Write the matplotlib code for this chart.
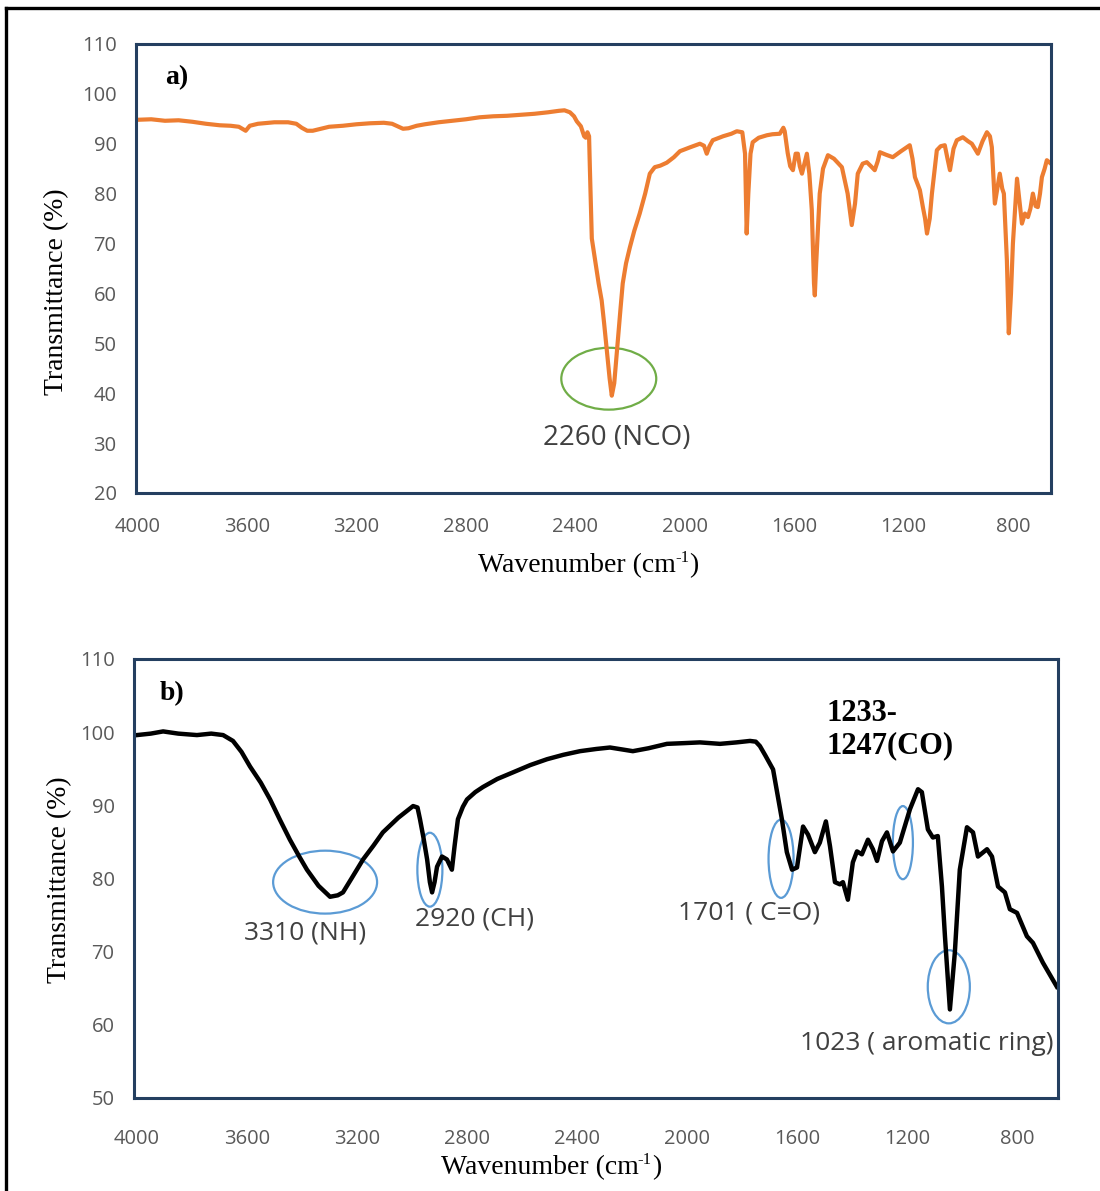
import matplotlib
matplotlib.use("Agg")
import matplotlib.pyplot as plt
from matplotlib.patches import Ellipse
from matplotlib.lines import Line2D

# (a) спектр, оранжевая кривая
wn_a = [4000, 3950, 3900, 3850, 3800, 3750, 3700, 3660, 3630, 3605, 3590, 3560, 3500, 3450,
        3420, 3400, 3380, 3360, 3330, 3300, 3250, 3200, 3150, 3100, 3070, 3050, 3030, 3010,
        2980, 2950, 2900, 2850, 2800, 2750, 2700, 2650, 2600, 2550, 2500, 2460, 2440, 2420,
        2405, 2395, 2380, 2368, 2362, 2356, 2350, 2347, 2340, 2329, 2315, 2304, 2295, 2285,
        2275, 2267, 2258, 2245, 2235, 2227, 2215, 2201, 2185, 2165, 2145, 2128, 2110, 2090,
        2066, 2040, 2018, 1980, 1945, 1930, 1920, 1910, 1898, 1860, 1830, 1810, 1790, 1780,
        1774, 1768, 1760, 1752, 1730, 1700, 1680, 1653, 1640, 1635, 1624, 1615, 1605, 1595,
        1587, 1580, 1572, 1563, 1554, 1545, 1536, 1528, 1525, 1520, 1507, 1495, 1477, 1455,
        1426, 1405, 1390, 1378, 1368, 1350, 1335, 1320, 1306, 1295, 1287, 1265, 1240, 1210,
        1178, 1168, 1159, 1150, 1141, 1130, 1122, 1115, 1105, 1097, 1079, 1065, 1050, 1040,
        1031, 1018, 1006, 984, 965, 951, 940, 929, 912, 896, 885, 878, 867, 858, 849, 840,
        834, 823, 816, 808, 801, 786, 776, 768, 757, 746, 737, 728, 718, 710, 702, 695, 685,
        677, 662]
t_a = [94.8, 94.9, 94.6, 94.7, 94.4, 94.0, 93.7, 93.6, 93.4, 92.6, 93.6, 94.0, 94.3, 94.3,
       94.0, 93.2, 92.6, 92.6, 93.0, 93.4, 93.6, 93.9, 94.1, 94.2, 94.0, 93.5, 93.0, 93.1,
       93.6, 93.9, 94.3, 94.6, 94.9, 95.3, 95.5, 95.6, 95.8, 96.0, 96.3, 96.6, 96.7, 96.3,
       95.5, 94.5, 93.5, 91.5, 91.2, 92.3, 91.5, 85.0, 71.0, 67.0, 62.0, 58.6, 54.0, 48.6,
       43.0, 39.5, 42.0, 50.6, 57.0, 62.0, 66.0, 69.2, 72.5, 76.0, 80.0, 84.0, 85.3, 85.6,
       86.2, 87.3, 88.5, 89.3, 90.0, 89.6, 88.0, 89.5, 90.7, 91.5, 92.0, 92.5, 92.3, 88.0,
       72.0, 80.0, 88.0, 90.3, 91.2, 91.7, 91.9, 92.0, 93.2, 92.5, 88.1, 85.5, 84.7, 88.0,
       88.0, 85.5, 84.0, 86.0, 88.0, 84.0, 76.7, 62.0, 59.6, 66.0, 80.0, 85.0, 87.7, 87.0,
       85.3, 80.0, 73.7, 78.0, 84.0, 86.0, 86.3, 85.5, 84.7, 86.5, 88.3, 87.8, 87.3, 88.5,
       89.7, 87.0, 83.3, 82.0, 80.7, 77.3, 75.0, 72.0, 75.0, 80.0, 88.7, 89.5, 89.7, 87.0,
       84.7, 89.0, 90.7, 91.3, 90.5, 90.0, 89.0, 88.0, 90.5, 92.3, 91.5, 89.3, 78.0, 81.0,
       84.0, 81.0, 80.0, 66.6, 52.0, 60.0, 70.0, 83.0, 78.0, 74.0, 76.0, 75.3, 77.0, 80.0,
       77.5, 77.3, 80.0, 83.3, 85.0, 86.7, 86.0]

# (b) спектр, чёрная кривая
wn_b = [4000, 3950, 3905, 3850, 3782, 3730, 3687, 3651, 3620, 3589, 3550, 3516, 3480, 3444,
        3410, 3382, 3340, 3298, 3270, 3251, 3220, 3178, 3140, 3106, 3050, 2996, 2980, 2971,
        2958, 2945, 2935, 2927, 2918, 2909, 2891, 2873, 2855, 2845, 2833, 2815, 2800, 2770,
        2742, 2690, 2633, 2570, 2509, 2450, 2389, 2330, 2280, 2230, 2197, 2140, 2073, 2010,
        1953, 1880, 1820, 1771, 1750, 1735, 1715, 1687, 1655, 1637, 1618, 1600, 1578, 1560,
        1535, 1517, 1495, 1480, 1462, 1444, 1433, 1415, 1397, 1382, 1364, 1342, 1324, 1309,
        1291, 1273, 1251, 1226, 1189, 1160, 1146, 1124, 1106, 1088, 1073, 1062, 1044, 1026,
        1008, 982, 960, 942, 909, 891, 869, 844, 826, 800, 764, 742, 706, 655]
t_b = [99.6, 99.8, 100.1, 99.8, 99.6, 99.8, 99.6, 98.8, 97.3, 95.3, 93.1, 90.8, 88.0, 85.3,
       83.0, 81.2, 79.0, 77.5, 77.7, 78.1, 80.0, 82.6, 84.5, 86.3, 88.3, 89.9, 89.7, 88.1,
       85.5, 82.6, 79.5, 78.1, 79.5, 81.6, 83.0, 82.6, 81.2, 84.5, 88.1, 89.8, 90.8, 91.8,
       92.5, 93.6, 94.5, 95.5, 96.3, 96.9, 97.4, 97.7, 97.9, 97.6, 97.4, 97.8, 98.4, 98.5,
       98.6, 98.4, 98.6, 98.8, 98.7, 98.1, 96.8, 94.9, 88.1, 83.6, 81.2, 81.5, 87.1, 86.0,
       83.6, 84.9, 87.8, 84.4, 79.5, 79.2, 79.5, 77.1, 82.2, 83.7, 83.3, 85.3, 84.0, 82.4,
       85.1, 86.3, 83.7, 84.9, 89.5, 92.2, 91.8, 86.7, 85.6, 85.8, 78.9, 72.1, 62.1, 69.9,
       81.2, 87.0, 86.3, 83.0, 84.0, 83.0, 78.9, 78.1, 75.8, 75.3, 72.1, 71.2, 68.5, 65.2]

xticks = [4000, 3600, 3200, 2800, 2400, 2000, 1600, 1200, 800]
yticks_a = [20, 30, 40, 50, 60, 70, 80, 90, 100, 110]
yticks_b = [50, 60, 70, 80, 90, 100, 110]

serif = "Liberation Serif"
sans = "Open Sans"
frame_col = "#243f60"
tick_col = "#595959"
note_col = "#404040"
blue = "#5b9bd5"

W, H = 1100, 1191
fig = plt.figure(figsize=(11, 11.91), dpi=100)

ax1 = fig.add_axes([0.1236, 0.5861, 0.8318, 0.3770])
ax2 = fig.add_axes([0.1218, 0.0781, 0.8400, 0.3686])


def style(ax, yticks, ylim, xlim, xpad):
    ax.set_xlim(*xlim)
    ax.set_ylim(*ylim)
    ax.set_xticks(xticks)
    ax.set_yticks(yticks)
    for s in ax.spines.values():
        s.set_color(frame_col)
        s.set_linewidth(2.2)
    ax.tick_params(length=0, labelsize=14.5, labelcolor=tick_col)
    ax.tick_params(axis="y", pad=14)
    ax.tick_params(axis="x", pad=xpad)
    for lab in ax.get_xticklabels() + ax.get_yticklabels():
        lab.set_fontfamily(sans)


style(ax1, yticks_a, (20, 110), (4006, 662), 17)
style(ax2, yticks_b, (50, 110), (4011, 651), 22)

ax1.plot(wn_a, t_a, color="#ed7d31", lw=3, solid_joinstyle="round")
ax2.plot(wn_b, t_b, color="black", lw=3.2, solid_joinstyle="round")

# эллипсы-выделения
ax1.add_patch(Ellipse((2278, 42.9), 347, 12.4, fill=False, ec="#70ad47", lw=1.6))
for c, w, h in [((3316, 79.5), 378, 8.6), ((2935, 81.2), 91, 10.1),
                ((1658, 82.7), 91, 10.7), ((1215, 84.9), 73, 10.0),
                ((1048, 65.2), 153, 10.0)]:
    ax2.add_patch(Ellipse(c, w, h, fill=False, ec=blue, lw=1.6))

# подписи пиков
ax1.text(2249, 31.1, "2260 (NCO)", fontsize=20, color=note_col, family=sans,
         ha="center", va="center")
ax2.text(3389, 72.6, "3310 (NH)", fontsize=19, color=note_col, family=sans,
         ha="center", va="center")
ax2.text(2771, 74.4, "2920 (CH)", fontsize=19, color=note_col, family=sans,
         ha="center", va="center")
ax2.text(1775, 75.3, "1701 ( C=O)", fontsize=19, color=note_col, family=sans,
         ha="center", va="center")
ax2.text(1128, 57.5, "1023 ( aromatic ring)", fontsize=19, color=note_col, family=sans,
         ha="center", va="center")
ax2.text(1491, 100.3, "1233-\n1247(CO)", fontsize=22, fontweight="bold", family=serif,
         ha="left", va="center", linespacing=1.15)

ax1.text(3901, 103.2, "a)", fontsize=20, fontweight="bold", family=serif,
         ha="left", va="center")
ax2.text(3916, 105.2, "b)", fontsize=20, fontweight="bold", family=serif,
         ha="left", va="center")

# подписи осей
fig.text(57 / W, 1 - 292 / H, "Transmittance (%)", rotation=90, fontsize=20,
         family=serif, ha="center", va="center")
fig.text(60 / W, 1 - 880 / H, "Transmittance (%)", rotation=90, fontsize=20,
         family=serif, ha="center", va="center")

renderer = fig.canvas.get_renderer()


def xlabel(left_px, y_px):
    # "Wavenumber (cm" + верхний индекс "-1" + ")"
    t1 = fig.text(left_px / W, 1 - y_px / H, "Wavenumber (cm", fontsize=20,
                  family=serif, ha="left", va="center")
    x1 = t1.get_window_extent(renderer).x1
    t2 = fig.text((x1 - 1) / W, 1 - (y_px - 8) / H, "-1", fontsize=12,
                  family=serif, ha="left", va="center")
    x2 = t2.get_window_extent(renderer).x1
    fig.text(x2 / W, 1 - y_px / H, ")", fontsize=20,
             family=serif, ha="left", va="center")


xlabel(478, 566)
xlabel(441, 1168)

# внешняя рамка (видны левая и верхняя стороны)
fig.add_artist(Line2D([6 / W, 6 / W], [0, 1 - 8 / H], color="black", lw=2.4))
fig.add_artist(Line2D([6 / W, 1], [1 - 8 / H, 1 - 8 / H], color="black", lw=2.4))

fig.savefig("out.png", dpi=100)
